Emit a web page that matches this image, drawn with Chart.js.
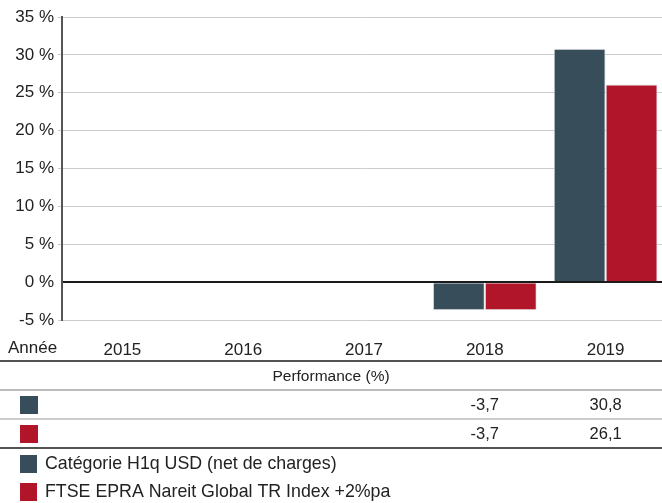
<!DOCTYPE html>
<html>
<head>
<meta charset="utf-8">
<script src="https://cdn.jsdelivr.net/npm/chart.js@4/dist/chart.umd.min.js"></script>
<style>
  html, body { margin: 0; padding: 0; background: #fff; overflow: hidden; }
  #wrap { width: 662px; height: 503px; position: relative; overflow: hidden; }
</style>
</head>
<body>
<div id="wrap"><canvas id="perf-chart" width="666" height="503"></canvas></div>
<script>
const years = ["2015", "2016", "2017", "2018", "2019"];
const fundValues = [null, null, null, -3.7, 30.8];
const indexValues = [null, null, null, -3.7, 26.1];
const seriesNames = ["Catégorie H1q USD (net de charges)", "FTSE EPRA Nareit Global TR Index +2%pa"];
const yTicks = [-5, 0, 5, 10, 15, 20, 25, 30, 35];

const FONT = "'Liberation Sans', Arial, sans-serif";
const TEXT = "#222";
const DARK = "#374e5a";
const RED = "#b0152a";
const VIEW_W = 662;

const fmt = v => v.toFixed(1).replace(".", ",");

// "Année" label, performance table and legend under the x axis
const tablePlugin = {
    id: "perfTable",
    afterDraw(chart) {
        const ctx = chart.ctx;
        const x = chart.scales.x;
        ctx.save();
        ctx.fillStyle = TEXT;
        ctx.font = "17px " + FONT;
        ctx.textBaseline = "middle";
        ctx.textAlign = "left";
        ctx.fillText("Année", 8, 348);

        const hline = (y, color, w) => {
            ctx.strokeStyle = color;
            ctx.lineWidth = w;
            ctx.beginPath();
            ctx.moveTo(0, y);
            ctx.lineTo(chart.width, y);
            ctx.stroke();
        };
        hline(361, "#1a1a1a", 1.5);
        ctx.font = "15.5px " + FONT;
        ctx.textAlign = "center";
        ctx.fillText("Performance (%)", VIEW_W / 2, 377);
        hline(390, "#777", 1);

        ctx.font = "16.5px " + FONT;
        const rows = [[fundValues, DARK, 405], [indexValues, RED, 434]];
        rows.forEach(([vals, color, y]) => {
            ctx.fillStyle = color;
            ctx.fillRect(20, y - 9, 18, 18);
            ctx.fillStyle = TEXT;
            vals.forEach((v, i) => {
                if (v === null) return;
                ctx.fillText(fmt(v), x.getPixelForValue(i), y);
            });
        });
        hline(419, "#999", 1);
        hline(448, "#1a1a1a", 1.5);

        ctx.textAlign = "left";
        ctx.font = "17.8px " + FONT;
        [[DARK, 464], [RED, 492]].forEach(([color, y], i) => {
            ctx.fillStyle = color;
            ctx.fillRect(20, y - 9, 17, 18);
            ctx.fillStyle = TEXT;
            ctx.fillText(seriesNames[i], 45, y);
        });
        ctx.restore();
    }
};

new Chart(document.getElementById("perf-chart").getContext("2d"), {
    type: "bar",
    data: {
        labels: years,
        datasets: [
            { label: seriesNames[0], data: fundValues, backgroundColor: DARK, borderColor: "#e6e6e6", borderWidth: 1 },
            { label: seriesNames[1], data: indexValues, backgroundColor: RED, borderColor: "#e6e6e6", borderWidth: 1 }
        ]
    },
    options: {
        responsive: false,
        animation: false,
        devicePixelRatio: 1,
        categoryPercentage: 0.86,
        barPercentage: 1,
        layout: { padding: { top: 17, right: 0, bottom: 142, left: 0 } },
        plugins: { legend: { display: false }, tooltip: { enabled: false } },
        scales: {
            x: {
                grid: { display: false, drawTicks: false },
                border: { display: false },
                ticks: { color: TEXT, font: { family: FONT, size: 17 }, padding: 20, maxRotation: 0 },
                afterFit(s) { s.height = 41; }
            },
            y: {
                min: -5,
                max: 35,
                afterBuildTicks(s) { s.ticks = yTicks.map(v => ({ value: v })); },
                grid: {
                    color: c => c.tick && c.tick.value === 0 ? "#1a1a1a" : "#cccccc",
                    lineWidth: c => c.tick && c.tick.value === 0 ? 2 : 1,
                    tickColor: c => c.tick && c.tick.value === 0 ? "rgba(0,0,0,0)" : "#cccccc",
                    tickLength: 4
                },
                border: { color: "#555", width: 2 },
                ticks: {
                    color: TEXT,
                    font: { family: FONT, size: 17 },
                    padding: 4,
                    callback: v => v + " %"
                },
                afterFit(s) { s.width = 62; }
            }
        }
    },
    plugins: [tablePlugin]
});
</script>
</body>
</html>
